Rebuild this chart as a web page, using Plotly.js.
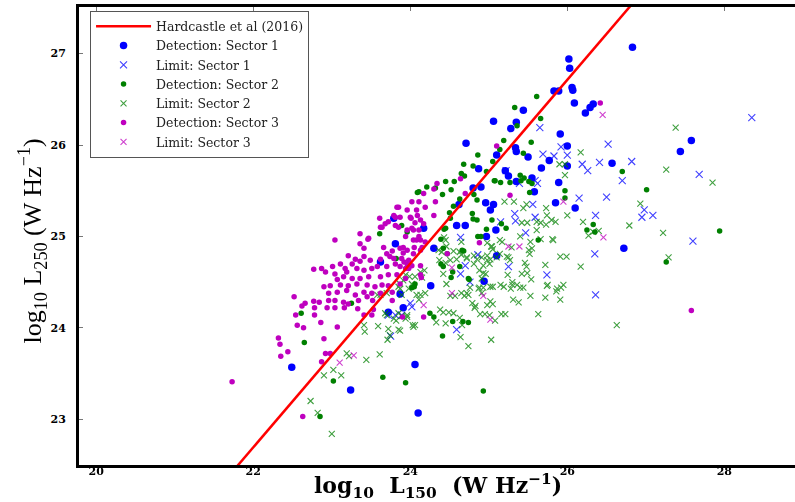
<!DOCTYPE html>
<html><head><meta charset="utf-8">
<script src="https://cdn.plot.ly/plotly-3.0.1.min.js"></script>
<style>html,body{margin:0;padding:0;overflow:hidden;background:#fff}#chart{width:815px;height:502px}</style>
</head><body><div id="chart"></div>
<script>
// Hardcastle et al (2016) relation, endpoints
const hcX = [21.31, 27.28];
const hcY = [22.0, 28.0];

// Sector 1 detections
const s1DetX = [26.83,26.02,26.03,26.06,26.07,25.83,25.89,26.09,26.33,26.29,26.23,25.44,25.06,25.35,25.28,25.91,24.71,25.34,25.35,26.00,25.10,25.50,25.67,25.77,26.00,26.57,27.58,27.44,24.87,25.21,25.25,25.35,25.55,25.89,25.58,24.80,24.90,24.62,24.96,25.06,25.02,25.85,26.10,24.59,24.70,24.97,25.09,24.17,24.30,26.72,25.10,24.26,24.94,23.91,23.87,24.06,24.10,22.49,23.24,23.72,23.81,23.79,23.62];
const s1DetY = [27.07,26.94,26.84,26.63,26.60,26.59,26.59,26.46,26.45,26.41,26.35,26.38,26.26,26.25,26.18,26.12,26.02,25.97,25.93,25.99,25.89,25.87,25.75,25.83,25.77,25.80,26.05,25.93,25.74,25.72,25.66,25.60,25.64,25.59,25.49,25.53,25.54,25.35,25.37,25.35,25.29,25.37,25.31,25.12,25.12,25.00,25.07,25.09,24.87,24.87,24.79,24.46,24.51,24.22,24.37,23.60,23.07,23.57,23.32,24.17,24.92,25.20,24.72];

// Sector 1 limits
const s1LimX = [28.35,25.65,26.52,25.92,25.69,25.83,26.00,26.19,26.41,26.82,26.26,25.22,27.68,26.70,25.39,25.62,25.59,26.15,26.50,25.56,25.33,25.59,25.34,26.36,26.98,26.95,27.09,25.15,25.47,24.64,27.60,24.86,26.35,25.25,25.74,24.64,24.76,26.36,24.00,24.02,24.59,24.70,23.72,23.81,23.89,23.75];
const s1LimY = [26.30,26.19,26.01,25.98,25.90,25.88,25.89,25.79,25.81,25.82,25.72,25.72,25.68,25.61,25.58,25.58,25.61,25.42,25.43,25.35,25.25,25.21,25.17,25.23,25.29,25.21,25.23,25.16,25.04,24.99,24.95,24.80,24.81,24.67,24.58,24.59,24.50,24.36,24.27,24.23,23.98,24.68,24.14,24.14,24.14,23.91];

// Sector 2 detections
const s2DetX = [25.61,25.33,25.66,25.36,25.54,25.19,24.86,25.14,25.44,24.68,
24.80,24.65,24.69,25.05,24.97,25.08,25.15,25.27,25.40,25.45,
25.51,25.55,25.41,25.52,25.97,25.97,26.70,27.01,27.94,24.21,
24.32,24.45,24.11,24.41,24.52,24.56,24.63,24.85,24.81,24.79,
24.80,25.04,25.16,25.22,24.97,24.86,25.63,26.25,26.35,26.33,
24.51,24.43,24.42,24.68,24.39,24.42,24.52,24.63,24.75,24.05,
24.02,24.25,24.30,24.54,24.67,24.74,24.41,23.94,24.93,27.26,
23.25,22.61,22.65,23.02,22.85,23.65,23.82,24.09,23.61,23.89,
23.96,24.06,24.55,24.50,24.45,24.39,24.47,24.66,24.85,24.90,
25.07,24.54,24.74];
const s2DetY = [26.53,26.41,26.29,26.21,26.03,26.05,25.89,25.95,25.91,25.79,
25.77,25.69,25.66,25.82,25.71,25.61,25.59,25.59,25.67,25.64,
25.60,25.58,25.61,25.48,25.50,25.42,25.71,25.51,25.06,25.54,
25.53,25.60,25.49,25.46,25.51,25.60,25.41,25.40,25.46,25.25,
25.19,25.18,25.14,25.09,25.08,25.00,24.96,25.07,25.05,25.13,
25.20,25.08,24.87,24.84,24.70,24.67,24.55,24.67,24.53,24.45,
24.44,24.16,24.12,24.07,24.07,24.06,23.91,23.40,23.31,24.72,
24.27,24.16,23.84,23.42,23.03,23.46,24.76,25.48,25.03,25.12,
25.05,24.48,25.33,25.26,25.09,24.97,24.81,24.85,25.18,25.00,
25.61,24.61,24.54];

// Sector 2 limits
const s2LimX = [27.38,26.17,25.90,25.97,25.97,27.26,27.85,25.20,25.32,25.48,
25.44,25.73,26.00,26.20,26.93,26.79,27.22,26.27,26.33,26.40,
25.74,25.80,25.85,25.66,25.73,25.42,25.49,25.61,25.82,25.40,
25.14,25.17,25.04,24.43,24.65,25.55,25.29,27.29,25.91,25.99,
26.17,25.72,25.46,25.48,25.42,25.49,25.54,25.75,25.86,25.92,
25.72,25.91,25.30,25.28,25.44,25.31,25.38,24.93,24.93,25.01,
25.05,24.93,24.88,25.02,25.05,24.98,25.14,25.23,25.52,24.89,
24.95,25.01,25.08,25.16,25.21,25.63,26.63,25.03,24.74,24.64,
24.46,24.51,24.57,24.65,24.69,24.74,24.79,24.83,24.82,24.38,
24.42,24.49,24.55,24.33,24.45,24.66,24.63,24.06,24.04,23.94,
23.96,24.13,24.19,24.11,24.15,24.13,24.18,24.42,24.36,24.40,
24.63,24.72,24.81,24.91,23.94,23.99,23.91,23.58,23.70,23.85,
23.70,23.79,23.85,23.41,23.42,23.59,23.72,23.85,23.71,23.74,
23.19,23.22,23.44,23.61,23.02,23.12,22.90,22.73,22.82,23.00,
23.87,24.03,23.68,23.82,23.89,23.96,23.87,24.02,23.87,23.89,
24.08,23.98,23.62,24.06,25.61,25.53,25.51,25.66,25.81,25.24,
25.30,25.36,25.19,25.40,24.98,25.03,25.05,24.98,25.10,25.25,
25.27,24.85,24.98,25.02,24.72,24.59,24.81,24.88,24.96,24.91,
24.45,24.46,24.55,24.65,24.51,24.45,24.37,24.76,24.87,24.91,
24.72,25.02,25.15,25.53,25.74,25.87,25.95];
const s2LimY = [26.19,25.92,25.79,25.79,25.67,25.73,25.59,25.38,25.38,25.35,
25.31,25.31,25.23,25.16,25.36,25.12,25.04,25.01,25.05,25.06,
25.23,25.18,25.16,25.15,25.13,25.15,25.15,25.07,24.96,25.00,
24.96,24.94,24.89,24.99,24.94,24.87,24.88,24.77,24.78,24.78,
24.67,24.69,24.71,24.67,24.59,24.60,24.53,24.47,24.40,24.44,
24.33,24.31,24.47,24.43,24.44,24.31,24.28,24.68,24.60,24.70,
24.45,24.44,24.44,24.29,24.26,24.25,24.81,24.78,24.81,24.15,
24.15,24.14,24.08,24.15,24.15,24.15,24.03,23.87,23.80,23.90,
24.48,24.35,24.35,24.38,24.35,24.36,24.27,24.24,24.22,24.20,
24.17,24.17,24.16,24.06,24.05,24.03,24.11,24.03,24.01,24.10,
24.12,24.36,24.38,24.31,24.55,24.61,24.63,24.59,24.85,24.83,
24.83,24.77,24.79,24.77,24.58,24.56,24.52,24.36,24.38,24.45,
24.14,24.10,24.16,24.03,23.96,24.02,23.99,23.98,23.87,23.92,
23.72,23.69,23.65,23.71,23.54,23.48,23.48,23.20,23.07,22.84,
23.97,24.03,24.16,24.08,24.13,24.14,24.48,24.48,24.43,24.36,
24.36,24.43,24.36,24.56,25.16,24.94,24.85,24.97,24.97,24.58,
24.50,24.47,24.45,24.44,24.93,24.89,24.86,24.79,24.77,24.77,
24.74,24.75,24.74,24.75,24.76,24.75,24.70,24.63,24.59,24.54,
24.96,24.89,24.84,24.80,24.74,24.71,24.74,24.44,24.43,24.38,
24.38,24.45,24.47,24.35,24.46,24.43,24.47];

// Sector 3 detections
const s3DetX = [23.85,23.96,24.02,24.11,23.79,23.87,24.01,24.09,23.61,23.68,
23.64,23.81,24.02,23.96,24.11,24.08,23.94,23.46,23.36,23.04,
23.41,23.66,23.77,23.87,23.96,24.05,23.70,23.91,24.04,24.13,
23.21,23.30,23.41,23.49,23.62,23.74,23.79,23.89,23.98,22.77,
22.87,23.01,23.11,23.17,23.26,23.36,22.92,23.04,23.19,23.32,
23.41,23.51,23.58,23.70,23.81,23.87,23.98,23.07,23.15,23.26,
23.36,23.47,23.62,23.72,23.83,23.94,22.90,22.98,23.11,23.21,
23.32,23.45,23.55,23.64,23.72,22.96,23.07,23.19,23.30,23.41,
23.51,23.62,23.77,22.52,22.66,22.62,22.77,22.84,22.96,23.04,
23.15,23.21,23.34,23.45,22.78,22.94,23.04,23.16,23.33,23.52,
22.54,22.56,22.64,22.86,23.07,22.32,22.34,22.44,22.35,22.90,
22.92,22.98,22.87,21.73,22.63,22.78,23.41,23.51,23.53,23.77,
25.27,24.88,24.17,24.30,24.34,24.19,24.32,24.30,24.17,24.13,
24.13,24.70,24.64,26.42,25.10,24.08,24.00,24.13,24.06,24.04,
24.11,24.04,24.19,23.91,24.15,24.47,24.14,23.87,23.96,24.02,
23.92,24.13,23.94,23.90,24.17,27.58,23.36,23.47,23.62,23.72,
23.81,23.83,23.85];
const s3DetY = [25.32,25.29,25.38,25.38,25.23,25.21,25.20,25.23,25.20,25.14,
25.10,25.12,25.09,25.07,25.07,24.96,25.00,24.97,24.92,24.96,
24.87,24.88,24.84,24.87,24.85,24.88,24.81,24.82,24.81,24.85,
24.79,24.75,24.78,24.74,24.75,24.78,24.76,24.76,24.74,24.64,
24.65,24.67,24.70,24.65,24.70,24.73,24.61,24.59,24.61,24.65,
24.63,24.65,24.67,24.67,24.70,24.67,24.65,24.53,24.56,24.54,
24.54,24.56,24.56,24.58,24.58,24.54,24.45,24.46,24.47,24.46,
24.48,24.47,24.45,24.47,24.46,24.38,24.39,24.41,24.36,24.39,
24.38,24.38,24.39,24.34,24.27,24.24,24.29,24.28,24.30,24.30,
24.28,24.26,24.30,24.34,24.22,24.22,24.22,24.22,24.21,24.30,
24.14,24.03,24.00,24.06,24.01,23.89,23.82,23.74,23.69,23.88,
23.72,23.72,23.63,23.41,23.03,24.14,24.14,24.14,24.20,24.30,
25.45,24.93,25.47,25.52,25.58,25.32,25.38,25.23,25.14,24.96,
24.58,25.47,25.63,26.46,25.99,25.29,25.21,25.18,25.15,25.07,
25.00,24.96,24.94,24.88,24.88,24.81,24.55,24.48,24.70,24.68,
24.72,24.68,24.65,24.12,24.12,24.19,25.03,24.98,25.10,25.16,
25.21,25.32,25.10];

// Sector 3 limits
const s3LimX = [26.45,24.53,24.17,25.02,26.46,25.95,25.25,25.39,24.53,24.93,23.10,23.28];
const s3LimY = [26.33,24.38,24.25,24.09,24.99,25.38,24.89,24.89,24.66,24.35,23.62,23.70];

const legendNames = ["Hardcastle et al (2016)","Detection: Sector 1","Limit: Sector 1","Detection: Sector 2","Limit: Sector 2","Detection: Sector 3","Limit: Sector 3"];

const BLUE = "#0000ff", GREEN = "#008000", MAG = "#bf00bf";
function det(x, y, name, color, size) {
  return {type:"scatter", mode:"markers", x:x, y:y, name:name,
    marker:{symbol:"circle", size:size, color:color, line:{width:0}}};
}
function lim(x, y, name, color, size) {
  return {type:"scatter", mode:"markers", x:x, y:y, name:name, opacity:0.75,
    marker:{symbol:"x-thin-open", size:size, color:color, line:{width:1.1, color:color}}};
}
const traces = [
  det(s1DetX, s1DetY, legendNames[1], BLUE, 7.5),
  lim(s1LimX, s1LimY, legendNames[2], BLUE, 7),
  det(s2DetX, s2DetY, legendNames[3], GREEN, 5.5),
  lim(s2LimX, s2LimY, legendNames[4], GREEN, 6),
  det(s3DetX, s3DetY, legendNames[5], MAG, 5.5),
  lim(s3LimX, s3LimY, legendNames[6], MAG, 6),
  {type:"scatter", mode:"lines", x:hcX, y:hcY, name:legendNames[0], legendrank:1,
    line:{color:"#ff0000", width:2.5}},
  {type:"scatter", mode:"markers", x:[], y:[], xaxis:"x2", showlegend:false, hoverinfo:"skip"}
];
const NB = "\u00A0";
const tickFont = {family:"DejaVu Serif", size:11, color:"#000", weight:"bold"};
const layout = {
  width:815, height:502,
  margin:{l:79, r:0, t:7, b:37},
  paper_bgcolor:"#fff", plot_bgcolor:"#fff",
  showlegend:true,
  xaxis:{range:[19.78,29.155], dtick:2, tick0:20, showgrid:false, zeroline:false,
    showline:true, linewidth:3, linecolor:"#000", ticks:"", tickfont:tickFont, ticklabelstandoff:-6},
  xaxis2:{range:[19.78,29.155], dtick:2, tick0:20, overlaying:"x", side:"top", showgrid:false, zeroline:false,
    showline:true, linewidth:3.5, linecolor:"#000", ticks:"inside", ticklen:4, tickwidth:1, tickcolor:"#777", showticklabels:false},
  yaxis:{range:[22.5,27.51], dtick:1, tick0:23, showgrid:false, zeroline:false,
    showline:true, linewidth:3, linecolor:"#000", ticks:"inside", ticklen:4, tickwidth:1, tickcolor:"#777",
    tickfont:tickFont, ticklabelstandoff:8},
  legend:{x:0.015, y:0.992, xanchor:"left", yanchor:"top", bgcolor:"#fff",
    bordercolor:"#555", borderwidth:1, font:{family:"DejaVu Serif", size:12.5, color:"#222"},
    itemwidth:55, tracegroupgap:0},
  annotations:[
    {xref:"paper", yref:"paper", x:0.488, y:0, yshift:-39, xanchor:"center", yanchor:"bottom", showarrow:false,
     text:"log<sub>10</sub>"+NB+NB+"L<sub>150</sub>"+NB+NB+"(W"+NB+"Hz<sup>−1</sup>)", font:{family:"DejaVu Serif", size:22, color:"#000", weight:"bold"}},
    {xref:"paper", yref:"paper", x:-0.064, y:0.49, xanchor:"center", yanchor:"middle", showarrow:false, textangle:-90,
     text:"log<sub>10</sub> L<sub>250</sub> (W Hz<sup>−1</sup>)", font:{family:"Liberation Serif", size:26, color:"#000"}}
  ]
};
Plotly.newPlot("chart", traces, layout, {displayModeBar:false, staticPlot:true});
</script></body></html>
